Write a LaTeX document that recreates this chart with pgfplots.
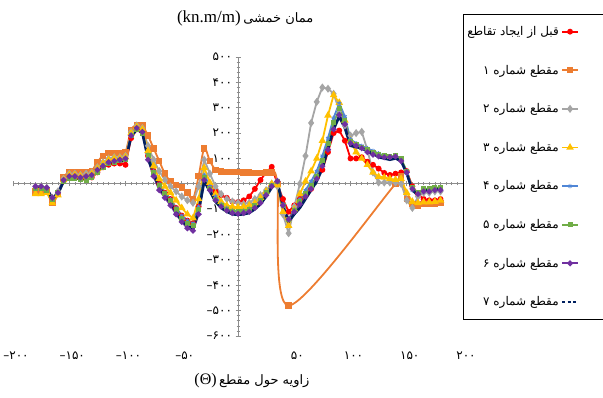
\documentclass[border=0pt]{standalone}
\usepackage{fontspec}
\usepackage{pgfplots}
\usepackage{pgfplotstable}
\pgfplotsset{compat=1.18}
\setmainfont{Liberation Serif}
\newfontfamily\fa[Script=Arabic]{DejaVu Sans}
\newfontfamily\digits{DejaVu Sans}
\TeXXeTstate=1

\definecolor{cRed}{HTML}{FF0000}
\definecolor{cOrange}{HTML}{ED7D31}
\definecolor{cGray}{HTML}{A5A5A5}
\definecolor{cYellow}{HTML}{FFC000}
\definecolor{cBlue}{HTML}{4F86D6}
\definecolor{cGreen}{HTML}{70AD47}
\definecolor{cPurple}{HTML}{7030A0}
\definecolor{cNavy}{HTML}{002060}
\definecolor{axgray}{HTML}{8C8C8C}

\pgfplotsset{
  marklegend/.style={legend image code/.code={\draw[mark repeat=2,mark phase=2,##1] plot coordinates {(0pt,0pt) (8pt,0pt) (16pt,0pt)};\path[draw=none,fill=none] (16pt,0pt) -- (62pt,0pt);}},
  dashlegend/.style={legend image code/.code={\draw[##1, dash pattern=on 3pt off 2.5pt] (0pt,0pt) -- (16pt,0pt);\path[draw=none,fill=none] (16pt,0pt) -- (62pt,0pt);}},
}

% bending moment around the section, one column per case
\pgfplotstableread{
ang r o g yl b gr p n
-180 -20 -30 -10 -40 -15 -20 -10 -15
-175 -20 -30 -10 -40 -15 -20 -10 -15
-170 -25 -30 -15 -35 -20 -25 -15 -20
-165 -60 -75 -55 -75 -55 -60 -55 -60
-160 -40 -40 -30 -45 -35 -35 -35 -40
-155 10 25 20 15 15 10 15 10
-150 25 47 40 35 30 20 30 25
-145 25 47 40 35 30 20 30 25
-140 20 45 35 30 25 18 25 20
-135 20 45 40 30 28 15 30 25
-130 25 50 45 40 35 25 35 30
-125 45 87 65 60 55 45 55 50
-120 65 110 85 80 75 65 70 70
-115 75 122 100 95 85 80 85 80
-110 80 122 105 100 90 85 90 85
-105 80 122 105 100 95 90 95 90
-100 75 125 110 105 100 95 100 90
-95 180 212 205 200 195 190 190 185
-90 215 232 230 225 220 215 220 215
-85 205 230 220 215 205 200 205 200
-80 110 190 150 130 115 110 95 100
-75 50 140 95 70 50 45 30 40
-70 0 90 50 20 0 -5 -25 -15
-65 -35 40 15 -10 -35 -40 -55 -45
-60 -60 10 -10 -35 -60 -65 -85 -75
-55 -95 -5 -30 -65 -95 -100 -120 -110
-50 -125 -15 -50 -95 -125 -135 -150 -145
-45 -145 -35 -65 -120 -145 -155 -175 -165
-40 -155 -60 -75 -135 -155 -165 -185 -175
-35 -90 30 -10 -60 -90 -100 -120 -110
-30 20 140 95 63 35 25 15 10
-25 -10 90 40 5 -10 -20 -25 -30
-20 -30 55 -10 -40 -50 -60 -65 -70
-15 -45 48 -40 -70 -80 -85 -90 -95
-10 -55 47 -60 -85 -95 -100 -105 -110
-5 -70 47 -70 -90 -105 -108 -115 -120
0 -72 47 -75 -92 -108 -110 -118 -122
5 -65 45 -80 -90 -105 -108 -115 -120
10 -50 45 -75 -85 -98 -100 -110 -115
15 -20 43 -60 -75 -85 -85 -95 -100
20 15 43 -45 -55 -65 -65 -75 -80
25 45 45 -25 -30 -35 -35 -45 -50
30 67 45 0 0 -5 -5 -10 -15
35 0 0 -10 -5 15 10 10 5
40 -60 nan -120 -110 -80 -85 -85 -90
45 -110 -480 -195 -165 -140 -140 -140 -150
50 -85 nan -90 -100 -100 -105 -110 -120
55 -60 nan 0 -40 -60 -70 -80 -95
60 -45 nan 110 10 -25 -40 -50 -60
65 -20 nan 240 50 10 -5 -20 -25
70 25 nan 323 100 50 30 20 10
75 55 nan 380 170 110 90 70 60
80 125 nan 375 270 180 160 135 140
85 200 nan 355 350 260 240 215 215
90 210 nan 290 320 318 295 272 265
95 170 nan 230 250 265 250 235 220
100 100 nan 190 170 175 165 160 150
105 100 nan 200 125 160 155 150 145
110 105 nan 205 100 150 145 140 140
115 87 nan 134 75 140 135 125 130
120 75 nan 45 45 130 125 115 120
125 60 nan 5 28 120 115 108 105
130 43 nan 5 25 110 110 105 100
135 35 nan 5 20 105 108 105 95
140 40 0 5 16 110 110 108 100
145 45 30 0 20 95 100 90 90
150 50 -60 -65 -35 40 50 45 40
155 -10 -80 -95 -70 -25 -15 -20 -25
160 -40 -85 -50 -75 -40 -35 -40 -45
165 -60 -80 -35 -72 -25 -20 -30 -25
170 -65 -80 -35 -72 -25 -20 -30 -25
175 -65 -80 -30 -70 -20 -15 -25 -20
180 -60 -75 -30 -65 -20 -15 -25 -20
}\moment

\begin{document}
\begin{tikzpicture}
\path[use as bounding box] (0,0) rectangle (603pt,397pt);
\begin{axis}[
  at={(13pt,61pt)}, anchor=south west,
  width=450pt, height=279pt, scale only axis,
  xmin=-200, xmax=200, ymin=-600, ymax=500,
  enlargelimits=false,
  axis lines=middle,
  axis line style={draw=axgray, line width=0.8pt, -},
  every inner x axis line/.append style={-},
  every inner y axis line/.append style={-},
  xtick={-200,-150,...,200},
  ytick={-600,-500,...,500},
  minor x tick num=9, minor y tick num=4,
  major tick length=5pt, minor tick length=3pt,
  tick align=center,
  every tick/.style={draw=axgray, line width=0.6pt},
  xticklabels={–۲۰۰,–۱۵۰,–۱۰۰,–۵۰,۰,۵۰,۱۰۰,۱۵۰,۲۰۰},
  yticklabels={–۶۰۰,–۵۰۰,–۴۰۰,–۳۰۰,–۲۰۰,–۱۰۰,۰,۱۰۰,۲۰۰,۳۰۰,۴۰۰,۵۰۰},
  xticklabel style={font=\digits\fontsize{12}{14}\selectfont, yshift=-162pt, xshift=3pt},
  yticklabel style={font=\digits\fontsize{12}{14}\selectfont},
  xlabel={{\fontsize{16}{18}\selectfont (Θ)} {\fa\fontsize{13}{15}\selectfont\beginR زاویه حول مقطع\endR}},
  ylabel={{\fontsize{17}{19}\selectfont (kn.m/m)} {\fa\fontsize{13}{15}\selectfont\beginR ممان خمشی\endR}},
  every axis x label/.style={at={(axis description cs:0.531,-0.161)}, anchor=center},
  every axis y label/.style={at={(axis description cs:0.516,1.14)}, anchor=center},
  legend style={at={(1.0,1.154)}, anchor=north west, draw=black, line width=0.6pt,
    font=\fa\fontsize{12}{14}\selectfont, row sep=24pt, inner xsep=2pt, inner ysep=10pt},
  legend cell align=right,
  legend plot pos=right,
  marklegend,
  every axis plot/.append style={line width=1.8pt},
]
\addplot[cRed, mark=*, mark size=2pt] table[x=ang,y=r] {\moment};
\addlegendentry{\beginR قبل از ایجاد تقاطع\endR}
\addplot[cOrange, smooth, mark=square*, mark size=2.3pt] table[x=ang,y=o] {\moment};
\addlegendentry{\beginR مقطع شماره ۱\endR}
\addplot[cGray, mark=diamond*, mark size=2.6pt] table[x=ang,y=g] {\moment};
\addlegendentry{\beginR مقطع شماره ۲\endR}
\addplot[cYellow, mark=triangle*, mark size=2.6pt] table[x=ang,y=yl] {\moment};
\addlegendentry{\beginR مقطع شماره ۳\endR}
\addplot[cBlue, mark=asterisk, mark size=2.2pt, mark options={line width=0.9pt}] table[x=ang,y=b] {\moment};
\addlegendentry{\beginR مقطع شماره ۴\endR}
\addplot[cGreen, mark=square*, mark size=1.6pt] table[x=ang,y=gr] {\moment};
\addlegendentry{\beginR مقطع شماره ۵\endR}
\addplot[cPurple, mark=*, mark size=1.9pt] table[x=ang,y=p] {\moment};
\addlegendentry{\beginR مقطع شماره ۶\endR}
\addplot[cNavy, line width=2.6pt, dashlegend] table[x=ang,y=n] {\moment};
\addlegendentry{\beginR مقطع شماره ۷\endR}
\end{axis}
\end{tikzpicture}
\end{document}
